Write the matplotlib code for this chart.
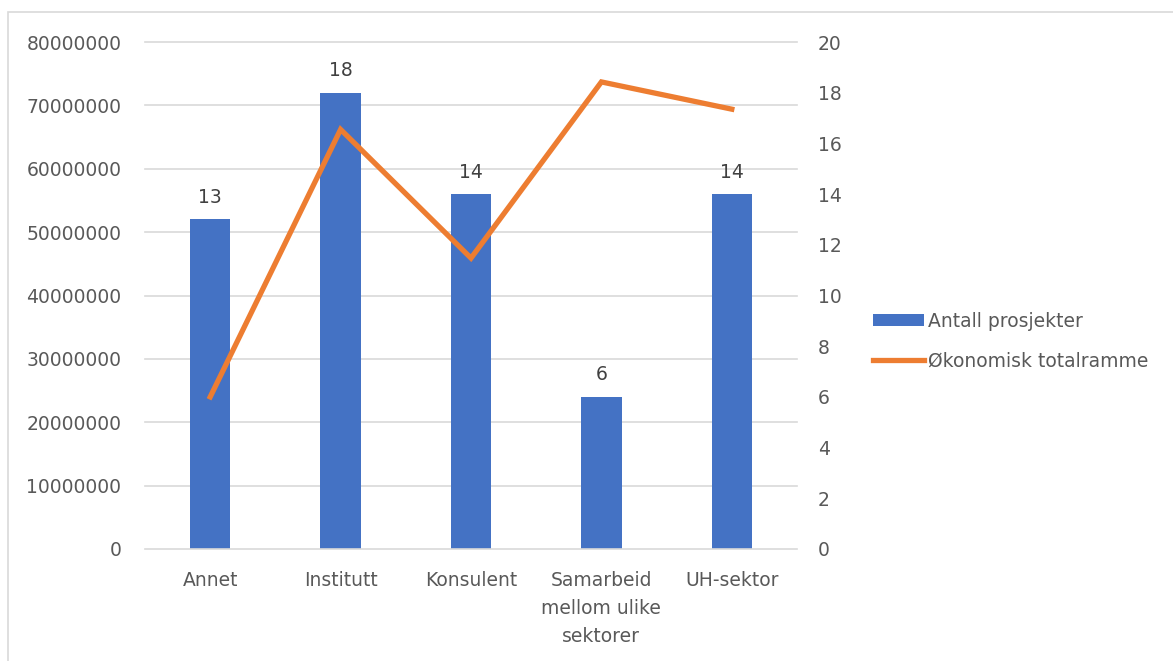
import numpy as np
import matplotlib.pyplot as plt
from matplotlib.patches import Rectangle

# Data
categories = ["Annet", "Institutt", "Konsulent", "Samarbeid\nmellom ulike\nsektorer", "UH-sektor"]
antall_prosjekter = [13, 18, 14, 6, 14]
okonomisk_totalramme = [24000000, 66200000, 45900000, 73700000, 69400000]

left_ticks = [0, 10000000, 20000000, 30000000, 40000000, 50000000, 60000000, 70000000, 80000000]
right_ticks = [0, 2, 4, 6, 8, 10, 12, 14, 16, 18, 20]

BLUE = "#4472C4"
ORANGE = "#ED7D31"
TEXT = "#595959"
GRID = "#D9D9D9"

plt.rcParams['font.family'] = ['DejaVu Sans']
fs = 13.5

fig = plt.figure(figsize=(11.73, 6.61), dpi=100)
# light outer chart border
fig.patches.append(Rectangle((8 / 1173, -0.1), 1.2, 1 - 12 / 661 + 0.1,
                             transform=fig.transFigure, fill=False,
                             edgecolor=GRID, linewidth=1.2))

rect = [145 / 1173, 1 - 549 / 661, (797 - 145) / 1173, (549 - 42) / 661]
ax_bar = fig.add_axes(rect)
ax_line = ax_bar.twinx()

x = np.arange(len(categories))

# bars on the right scale
bars = ax_bar.bar(x, antall_prosjekter, width=0.31, color=BLUE, zorder=2,
                  label="Antall prosjekter")
ax_bar.set_ylim(0, 20)
ax_bar.set_xlim(-0.5, len(categories) - 0.5)
# gridlines at the left-axis ticks, drawn behind the bars
for g in np.linspace(0, 20, len(left_ticks)):
    if g > 0:
        ax_bar.axhline(g, color=GRID, linewidth=1.2, zorder=0, clip_on=False)
for b, v in zip(bars, antall_prosjekter):
    ax_bar.annotate(str(v), (b.get_x() + b.get_width() / 2, v),
                    xytext=(0, 9), textcoords="offset points",
                    ha="center", va="bottom", fontsize=fs, color="#404040")

# line on the left scale
line, = ax_line.plot(x, okonomisk_totalramme, color=ORANGE, linewidth=3.8,
                     solid_joinstyle="miter", label="Økonomisk totalramme", zorder=3)
ax_line.set_ylim(0, 80000000)

# move ticks: line axis on the left, bar axis on the right
ax_line.yaxis.tick_left()
ax_bar.yaxis.tick_right()
ax_line.set_yticks(left_ticks)
ax_line.set_yticklabels([str(t) for t in left_ticks])
ax_bar.set_yticks(right_ticks)
ax_bar.set_yticklabels([str(t) for t in right_ticks])

ax_bar.set_xticks(x)
ax_bar.set_xticklabels(categories, linespacing=1.6)

for ax in (ax_bar, ax_line):
    for s in ax.spines.values():
        s.set_visible(False)
    ax.tick_params(axis="both", length=0, labelsize=fs, colors=TEXT)
ax_bar.spines["bottom"].set_visible(True)
ax_bar.spines["bottom"].set_color(GRID)
ax_bar.spines["bottom"].set_linewidth(1.2)
ax_line.tick_params(axis="y", pad=17)
ax_bar.tick_params(axis="y", pad=15)
ax_bar.tick_params(axis="x", pad=16)

leg = fig.legend(handles=[bars, line], loc="center left",
                 bbox_to_anchor=(856 / 1173, 1 - 341 / 661), frameon=False,
                 fontsize=fs, handlelength=2.7, handleheight=0.6,
                 handletextpad=0.25, labelspacing=1.1, labelcolor=TEXT)

fig.savefig("out.png", dpi=100)
